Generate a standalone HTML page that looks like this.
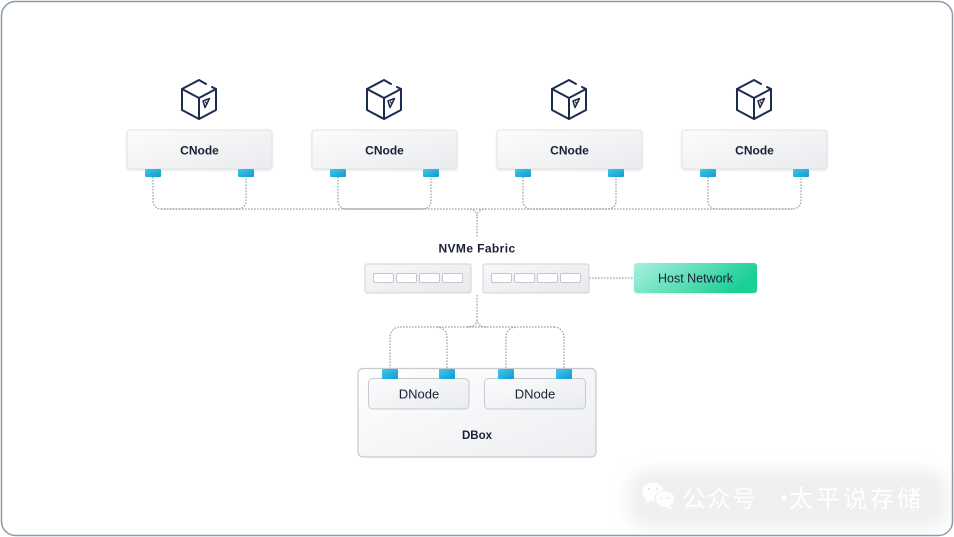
<!DOCTYPE html>
<html>
<head>
<meta charset="utf-8">
<style>
  html,body{margin:0;padding:0;background:#ffffff;}
  body{width:954px;height:537px;overflow:hidden;position:relative;}
  svg{position:absolute;left:0;top:0;}
  .wm{position:absolute;left:628px;top:470px;width:320px;height:58px;background:#efefef;filter:blur(8px);border-radius:20px;}
  .wmt{position:absolute;top:482px;font-family:"Noto Sans CJK SC",sans-serif;font-size:24px;color:#ffffff;white-space:nowrap;line-height:30px;letter-spacing:1px;}
</style>
</head>
<body>
<div class="wm"></div>
<svg width="954" height="537" viewBox="0 0 954 537" xmlns="http://www.w3.org/2000/svg">
  <defs>
    <linearGradient id="gNode" x1="0" y1="0" x2="1" y2="1">
      <stop offset="0" stop-color="#fcfcfd"/>
      <stop offset="1" stop-color="#e9ebee"/>
    </linearGradient>
    <linearGradient id="gSw" x1="0" y1="0" x2="1" y2="1">
      <stop offset="0" stop-color="#f8f8fa"/>
      <stop offset="1" stop-color="#e6e8eb"/>
    </linearGradient>
    <linearGradient id="gPort" x1="0" y1="0" x2="1" y2="1">
      <stop offset="0" stop-color="#3cc9ec"/>
      <stop offset="1" stop-color="#1599d0"/>
    </linearGradient>
    <linearGradient id="gHost" x1="0" y1="0" x2="1" y2="0.3">
      <stop offset="0" stop-color="#aaf0de"/>
      <stop offset="1" stop-color="#1ccf97"/>
    </linearGradient>
    <linearGradient id="gBox" x1="0" y1="0" x2="1" y2="1">
      <stop offset="0" stop-color="#ffffff"/>
      <stop offset="1" stop-color="#eceef1"/>
    </linearGradient>
    <filter id="sh" x="-10%" y="-20%" width="120%" height="150%">
      <feDropShadow dx="0" dy="1" stdDeviation="1" flood-color="#000" flood-opacity="0.10"/>
    </filter>
    <g id="cube" fill="none" stroke="#1d2b4f" stroke-width="2" stroke-linejoin="round" stroke-linecap="round">
      <path d="M7,84 L0,80 L-17,89 L-17,110 L0,119 L17,110 L17,89 L13,87"/>
      <path d="M-17,89 L0,98 L17,89"/>
      <path d="M0,98 L0,119"/>
      <path d="M4,101 L10.5,98.5 L6,107.5 Z" stroke-width="1.5"/>
      <path d="M6.5,102 L8,104" stroke-width="1.3"/>
    </g>
  </defs>

  <rect x="1.5" y="1.5" width="951" height="534" rx="14" fill="none" stroke="#8b9bab" stroke-width="1.5"/>

  <g fill="none" stroke="#9ba1a9" stroke-width="1.2" stroke-dasharray="1.6 1.4">
    <path d="M153,177 V201 A8,8 0 0 0 161,209 H238 A8,8 0 0 0 246,201 V177"/>
    <path d="M338,177 V201 A8,8 0 0 0 346,209 H423 A8,8 0 0 0 431,201 V177"/>
    <path d="M523,177 V201 A8,8 0 0 0 531,209 H608 A8,8 0 0 0 616,201 V177"/>
    <path d="M708,177 V201 A8,8 0 0 0 716,209 H793 A8,8 0 0 0 801,201 V177"/>
    <path d="M161,209 H793"/>
    <path d="M467,209 Q477,209 477,217 Q477,209 487,209"/>
    <path d="M477,217 V238"/>
    <path d="M589,278 H634"/>
    <path d="M477,295 V319"/>
    <path d="M467,327 Q477,327 477,319 Q477,327 487,327"/>
    <path d="M400,327 H554"/>
    <path d="M390,369 V337 A10,10 0 0 1 400,327"/>
    <path d="M437,327 A10,10 0 0 1 447,337 V369"/>
    <path d="M516,327 A10,10 0 0 0 506,337 V369"/>
    <path d="M554,327 A10,10 0 0 1 564,337 V369"/>
  </g>

  <use href="#cube" x="199" y="0"/>
  <use href="#cube" x="384" y="0"/>
  <use href="#cube" x="569" y="0"/>
  <use href="#cube" x="754" y="0"/>

  <g font-family="Liberation Sans, sans-serif" font-size="12" font-weight="bold" fill="#1a2035" text-anchor="middle">
    <rect x="127" y="130" width="145" height="39" rx="3" fill="url(#gNode)" stroke="#e0e3e7" filter="url(#sh)"/>
    <rect x="312" y="130" width="145" height="39" rx="3" fill="url(#gNode)" stroke="#e0e3e7" filter="url(#sh)"/>
    <rect x="497" y="130" width="145" height="39" rx="3" fill="url(#gNode)" stroke="#e0e3e7" filter="url(#sh)"/>
    <rect x="682" y="130" width="145" height="39" rx="3" fill="url(#gNode)" stroke="#e0e3e7" filter="url(#sh)"/>
    <text x="199.5" y="154.5">CNode</text>
    <text x="384.5" y="154.5">CNode</text>
    <text x="569.5" y="154.5">CNode</text>
    <text x="754.5" y="154.5">CNode</text>
  </g>
  <g fill="url(#gPort)">
    <rect x="145" y="169" width="16" height="8" rx="1"/>
    <rect x="238" y="169" width="16" height="8" rx="1"/>
    <rect x="330" y="169" width="16" height="8" rx="1"/>
    <rect x="423" y="169" width="16" height="8" rx="1"/>
    <rect x="515" y="169" width="16" height="8" rx="1"/>
    <rect x="608" y="169" width="16" height="8" rx="1"/>
    <rect x="700" y="169" width="16" height="8" rx="1"/>
    <rect x="793" y="169" width="16" height="8" rx="1"/>
  </g>

  <text x="477" y="252.5" font-family="Liberation Sans, sans-serif" font-size="12" font-weight="bold" fill="#1a2035" text-anchor="middle" letter-spacing="0.4">NVMe Fabric</text>
  <rect x="365" y="264" width="106" height="29" rx="2" fill="url(#gSw)" stroke="#d0d3d8"/>
  <rect x="483" y="264" width="106" height="29" rx="2" fill="url(#gSw)" stroke="#d0d3d8"/>
  <g fill="#ffffff" stroke="#c3c7cd" stroke-width="1">
    <rect x="373.5" y="273.5" width="20" height="9" rx="1.5"/>
    <rect x="396.5" y="273.5" width="20" height="9" rx="1.5"/>
    <rect x="419.5" y="273.5" width="20" height="9" rx="1.5"/>
    <rect x="442.5" y="273.5" width="20" height="9" rx="1.5"/>
    <rect x="491.5" y="273.5" width="20" height="9" rx="1.5"/>
    <rect x="514.5" y="273.5" width="20" height="9" rx="1.5"/>
    <rect x="537.5" y="273.5" width="20" height="9" rx="1.5"/>
    <rect x="560.5" y="273.5" width="20" height="9" rx="1.5"/>
  </g>

  <rect x="634" y="263" width="123" height="30" rx="3" fill="url(#gHost)" filter="url(#sh)"/>
  <text x="695.5" y="282.5" font-family="Liberation Sans, sans-serif" font-size="12.5" fill="#1a2035" text-anchor="middle">Host Network</text>

  <rect x="358" y="368.5" width="238" height="88.5" rx="5" fill="url(#gBox)" stroke="#c6cace" stroke-width="1.2"/>
  <rect x="368.5" y="378.5" width="100.5" height="30.5" rx="4" fill="url(#gNode)" stroke="#c6cace"/>
  <rect x="484.5" y="378.5" width="101" height="30.5" rx="4" fill="url(#gNode)" stroke="#c6cace"/>
  <g font-family="Liberation Sans, sans-serif" font-size="13" fill="#1a2035" text-anchor="middle">
    <text x="419" y="398.5">DNode</text>
    <text x="535" y="398.5">DNode</text>
  </g>
  <text x="477" y="439" font-family="Liberation Sans, sans-serif" font-size="11.5" font-weight="bold" fill="#1a2035" text-anchor="middle">DBox</text>
  <g fill="url(#gPort)">
    <rect x="382" y="369" width="16" height="10" rx="1"/>
    <rect x="439" y="369" width="16" height="10" rx="1"/>
    <rect x="498" y="369" width="16" height="10" rx="1"/>
    <rect x="556" y="369" width="16" height="10" rx="1"/>
  </g>

  <g fill="#ffffff" opacity="0.95">
    <ellipse cx="653" cy="492" rx="11" ry="9.5"/>
    <path d="M646,500 L644,505 L650,501 Z"/>
    <ellipse cx="665" cy="499" rx="10" ry="8.5" stroke="#efefef" stroke-width="1.2"/>
    <path d="M670,506 L673,510 L666,507 Z"/>
  </g>
  <g fill="#e4e4e4">
    <circle cx="649" cy="489" r="1.1"/>
    <circle cx="657" cy="489" r="1.1"/>
    <circle cx="661" cy="498" r="1"/>
    <circle cx="668" cy="498" r="1"/>
  </g>
</svg>
<div class="wmt" style="left:682px;">公众号</div>
<div class="wmt" style="left:772px;">·</div>
<div class="wmt" style="left:789px;letter-spacing:3px;">太平说存储</div>
</body>
</html>
